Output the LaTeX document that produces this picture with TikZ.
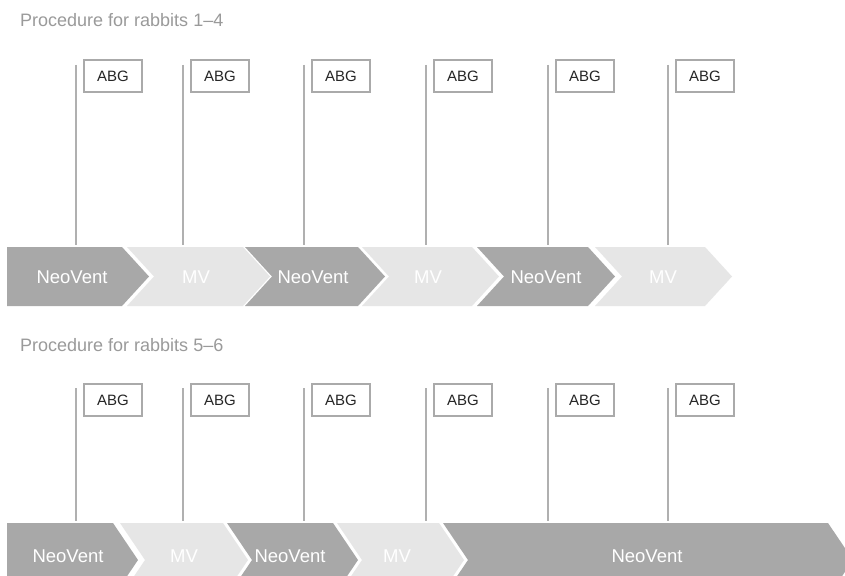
\documentclass[tikz,border=0pt]{standalone}
\usepackage{fontspec}
\setmainfont{Liberation Sans}
\definecolor{dk}{HTML}{A8A8A8}
\definecolor{lt}{HTML}{E6E6E6}
\definecolor{lg}{HTML}{B0B0B0}
\definecolor{bx}{HTML}{AAAAAA}
\definecolor{tc}{HTML}{9A9A9A}
% chevron: left, right, top, half height, depth, colour, notched(1/0)
\newcommand{\mychev}[7]{%
  \ifnum#7=1
    \fill[#6] (#1,#3) -- (#2,#3) -- ({#2+#5},{#3+#4}) -- (#2,{#3+2*#4}) -- (#1,{#3+2*#4}) -- ({#1+#5},{#3+#4}) -- cycle;
  \else
    \fill[#6] (#1,#3) -- (#2,#3) -- ({#2+#5},{#3+#4}) -- (#2,{#3+2*#4}) -- (#1,{#3+2*#4}) -- cycle;
  \fi}
\begin{document}
\begin{tikzpicture}[x=1pt,y=-1pt,
  flagline/.style={draw=lg, line width=2pt},
  abg/.style={draw=bx, line width=2pt, minimum width=58pt, minimum height=32pt,
    inner sep=0pt, font=\fontsize{15}{15}\selectfont, text=black!85, fill=white, anchor=north west},
  lab/.style={text=white, font=\fontsize{18.5}{18.5}\selectfont, inner sep=0pt},
  ttl/.style={text=tc, font=\fontsize{18}{18}\selectfont, anchor=base west, inner sep=0pt}]
\useasboundingbox (0,0) rectangle (845,575);
\fill[white] (0,0) rectangle (845,575);
\clip (0,0) rectangle (845,575);

% titles
\node[ttl] (t1) at (20,27) {Procedure for rabbits 1–4};
\node[ttl] (t2) at (20,351) {Procedure for rabbits 5–6};

% top row chevrons
\mychev{7}{122}{247}{29.5}{27}{dk}{0}
\mychev{127}{243}{247}{29.5}{27}{lt}{1}
\mychev{245}{358}{247}{29.5}{27}{dk}{1}
\mychev{362}{472}{247}{29.5}{27}{lt}{1}
\mychev{477}{588}{247}{29.5}{27}{dk}{1}
\mychev{595}{705}{247}{29.5}{27}{lt}{1}
\node[lab] (a1) at (72,277) {NeoVent};
\node[lab] (a2) at (196,277) {MV};
\node[lab] (a3) at (313,277) {NeoVent};
\node[lab] (a4) at (428,277) {MV};
\node[lab] (a5) at (546,277) {NeoVent};
\node[lab] (a6) at (663,277) {MV};

% bottom row chevrons
\mychev{7}{113}{523}{37}{25}{dk}{0}
\mychev{120}{223}{523}{37}{25}{lt}{1}
\mychev{227}{333}{523}{37}{25}{dk}{1}
\mychev{337}{439}{523}{37}{25}{lt}{1}
\mychev{443}{828}{523}{37}{25}{dk}{1}
\node[lab] (b1) at (68,556) {NeoVent};
\node[lab] (b2) at (184,556) {MV};
\node[lab] (b3) at (290,556) {NeoVent};
\node[lab] (b4) at (397,556) {MV};
\node[lab] (b5) at (647,556) {NeoVent};

% flags
\foreach \x [count=\i] in {76,183,304,426,548,668} {
  \coordinate (ft\i) at (\x,65);
  \coordinate (fb\i) at (\x,245);
  \draw[flagline] (ft\i) -- (fb\i);
  \node[abg] (abgt\i) at (\x+7,59) {ABG};
  \coordinate (gt\i) at (\x,388);
  \coordinate (gb\i) at (\x,521);
  \draw[flagline] (gt\i) -- (gb\i);
  \node[abg] (abgb\i) at (\x+7,383) {ABG};
}
\end{tikzpicture}
\end{document}
